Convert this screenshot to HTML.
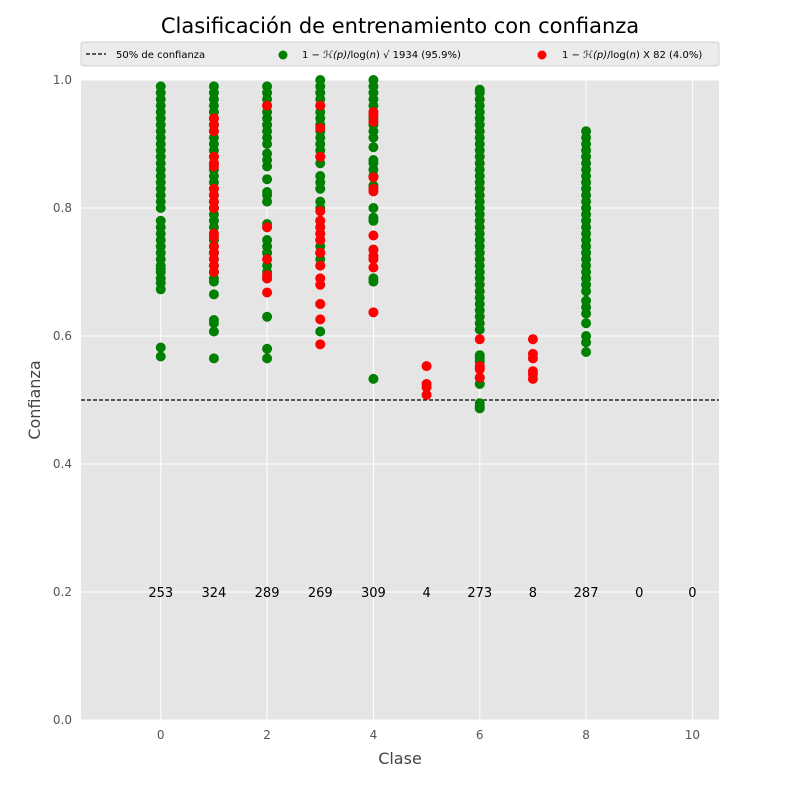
<!DOCTYPE html>
<html><head><meta charset="utf-8"><style>
body{margin:0;background:#fff;font-family:"Liberation Sans","DejaVu Sans",sans-serif}
svg text{font-family:"DejaVu Sans","Liberation Sans",sans-serif}
</style></head><body>
<svg id="c" width="800" height="800" xmlns="http://www.w3.org/2000/svg">
<rect x="0" y="0" width="800" height="800" fill="#fff"/>
<text x="400" y="33" font-size="21" text-anchor="middle" fill="#000">Clasificación de entrenamiento con confianza</text>
<rect x="81" y="80" width="638" height="640" fill="#e5e5e5"/>
<g id="grid"></g><g id="marks"></g><g id="axes"></g>
<g>
<rect x="81" y="42" width="638" height="24" fill="#ebebeb" stroke="#d0d0d0" rx="2"/>
<line x1="86" y1="54" x2="106" y2="54" stroke="#000" stroke-dasharray="4,2" stroke-width="1.2"/>
<text x="116" y="58" font-size="10">50% de confianza</text>
<circle cx="283" cy="55" r="4.5" fill="green"/>
<text x="302" y="58" font-size="10">1 − <tspan font-style="italic">ℋ(p)</tspan>/log(<tspan font-style="italic">n</tspan>) √ 1934 (95.9%)</text>
<circle cx="542" cy="55" r="4.5" fill="red"/>
<text x="562" y="58" font-size="10">1 − <tspan font-style="italic">ℋ(p)</tspan>/log(<tspan font-style="italic">n</tspan>) X 82 (4.0%)</text>
</g>
<text x="400" y="764" font-size="16" text-anchor="middle" fill="#444">Clase</text>
<text x="40" y="400" font-size="16" text-anchor="middle" fill="#444" transform="rotate(-90 40 400)">Confianza</text>
</svg>
<script>
const classes=[0,1,2,3,4,5,6,7,8];
const counts=[253,324,289,269,309,4,273,8,287,0,0];
const xTicks=[0,2,4,6,8,10];
const yTicks=[0,0.2,0.4,0.6,0.8,1.0];
const green0=[0.568,0.582,0.673,0.683,0.69,0.70,0.705,0.71,0.72,0.73,0.74,0.75,0.76,0.77,0.78,0.80,0.81,0.82,0.83,0.84,0.85,0.86,0.87,0.88,0.89,0.90,0.91,0.92,0.93,0.94,0.95,0.96,0.97,0.98,0.99];
const green1=[0.565,0.607,0.62,0.625,0.665,0.685,0.69,0.70,0.71,0.72,0.73,0.74,0.75,0.76,0.77,0.78,0.79,0.80,0.81,0.82,0.83,0.84,0.85,0.86,0.87,0.88,0.89,0.90,0.91,0.92,0.93,0.94,0.95,0.96,0.97,0.98,0.99];
const green2=[0.565,0.58,0.63,0.69,0.70,0.71,0.73,0.74,0.75,0.77,0.775,0.81,0.82,0.825,0.845,0.865,0.875,0.885,0.90,0.91,0.92,0.93,0.94,0.95,0.96,0.97,0.98,0.99];
const green3=[0.607,0.65,0.71,0.72,0.73,0.74,0.75,0.76,0.77,0.78,0.80,0.81,0.83,0.84,0.85,0.87,0.88,0.89,0.90,0.91,0.92,0.93,0.94,0.95,0.96,0.97,0.98,0.99,1.0];
const green4=[0.533,0.685,0.69,0.735,0.78,0.785,0.80,0.835,0.85,0.86,0.87,0.875,0.895,0.91,0.92,0.93,0.94,0.95,0.96,0.97,0.98,0.99,1.0];
const green6=[0.487,0.49,0.495,0.525,0.535,0.55,0.56,0.565,0.57,0.61,0.62,0.63,0.64,0.65,0.66,0.67,0.68,0.69,0.70,0.71,0.72,0.73,0.74,0.75,0.76,0.77,0.78,0.79,0.80,0.81,0.82,0.83,0.84,0.85,0.86,0.87,0.88,0.89,0.90,0.91,0.92,0.93,0.94,0.95,0.96,0.97,0.98,0.985];
const green8=[0.575,0.59,0.60,0.62,0.635,0.645,0.655,0.67,0.68,0.69,0.70,0.71,0.72,0.73,0.74,0.75,0.76,0.77,0.78,0.79,0.80,0.81,0.82,0.83,0.84,0.85,0.86,0.87,0.88,0.89,0.90,0.91,0.92];
const red1=[0.70,0.71,0.72,0.73,0.74,0.755,0.76,0.80,0.81,0.82,0.83,0.865,0.87,0.88,0.92,0.93,0.94];
const red2=[0.668,0.69,0.695,0.72,0.77,0.96];
const red3=[0.587,0.626,0.65,0.68,0.69,0.71,0.73,0.75,0.76,0.77,0.78,0.795,0.88,0.925,0.96];
const red4=[0.637,0.707,0.72,0.725,0.735,0.757,0.826,0.83,0.848,0.935,0.945,0.95];
const red5=[0.508,0.52,0.525,0.553];
const red6=[0.535,0.548,0.553,0.595];
const red7=[0.533,0.54,0.545,0.565,0.572,0.595];
const greens=[green0,green1,green2,green3,green4,[],green6,[],green8];
const reds=[[],red1,red2,red3,red4,red5,red6,red7,[]];
const threshold=0.5;
const X0=81,X1=719,Y0=720,Y1=80,xmin=-1.5,xmax=10.5;
const xs=v=>X0+(v-xmin)/(xmax-xmin)*(X1-X0);
const ys=v=>Y0-v*(Y0-Y1);
const NS="http://www.w3.org/2000/svg";
function mk(p,t,a){const e=document.createElementNS(NS,t);for(const k in a)e.setAttribute(k,a[k]);p.appendChild(e);return e;}
const grid=document.getElementById('grid'),marks=document.getElementById('marks'),axes=document.getElementById('axes');
xTicks.forEach(t=>{
 const l=mk(grid,'line',{x1:xs(t),x2:xs(t),y1:Y1,y2:Y0,stroke:'#fff','stroke-width':1});
 
 
 const tx=mk(axes,'text',{x:xs(t),y:Y0+19,'font-size':12,'text-anchor':'middle',fill:'#555'});tx.textContent=t;
 
 
});
yTicks.forEach(t=>{
 const l=mk(grid,'line',{x1:X0,x2:X1,y1:ys(t),y2:ys(t),stroke:'#fff','stroke-width':1});
 
 
 const tx=mk(axes,'text',{x:X0-9,y:ys(t)+4,'font-size':12,'text-anchor':'end',fill:'#555'});tx.textContent=t.toFixed(1);
 
 
});
const th=mk(marks,'line',{x1:X0,x2:X1,y1:ys(threshold),y2:ys(threshold),stroke:'#000','stroke-dasharray':'4,2','stroke-width':1.2});


classes.forEach((c,i)=>{
 greens[i].forEach(v=>{const p=mk(marks,'circle',{cx:xs(c),cy:ys(v),r:5,fill:'green'});
  
  });
 reds[i].forEach(v=>{const p=mk(marks,'circle',{cx:xs(c),cy:ys(v),r:5,fill:'red'});
  
  });
});
counts.forEach((n,i)=>{const t=mk(marks,'text',{x:xs(i),y:ys(0.2)+5,'font-size':13,'text-anchor':'middle',fill:'#000'});t.textContent=n;
 
 });
</script>
</body></html>
